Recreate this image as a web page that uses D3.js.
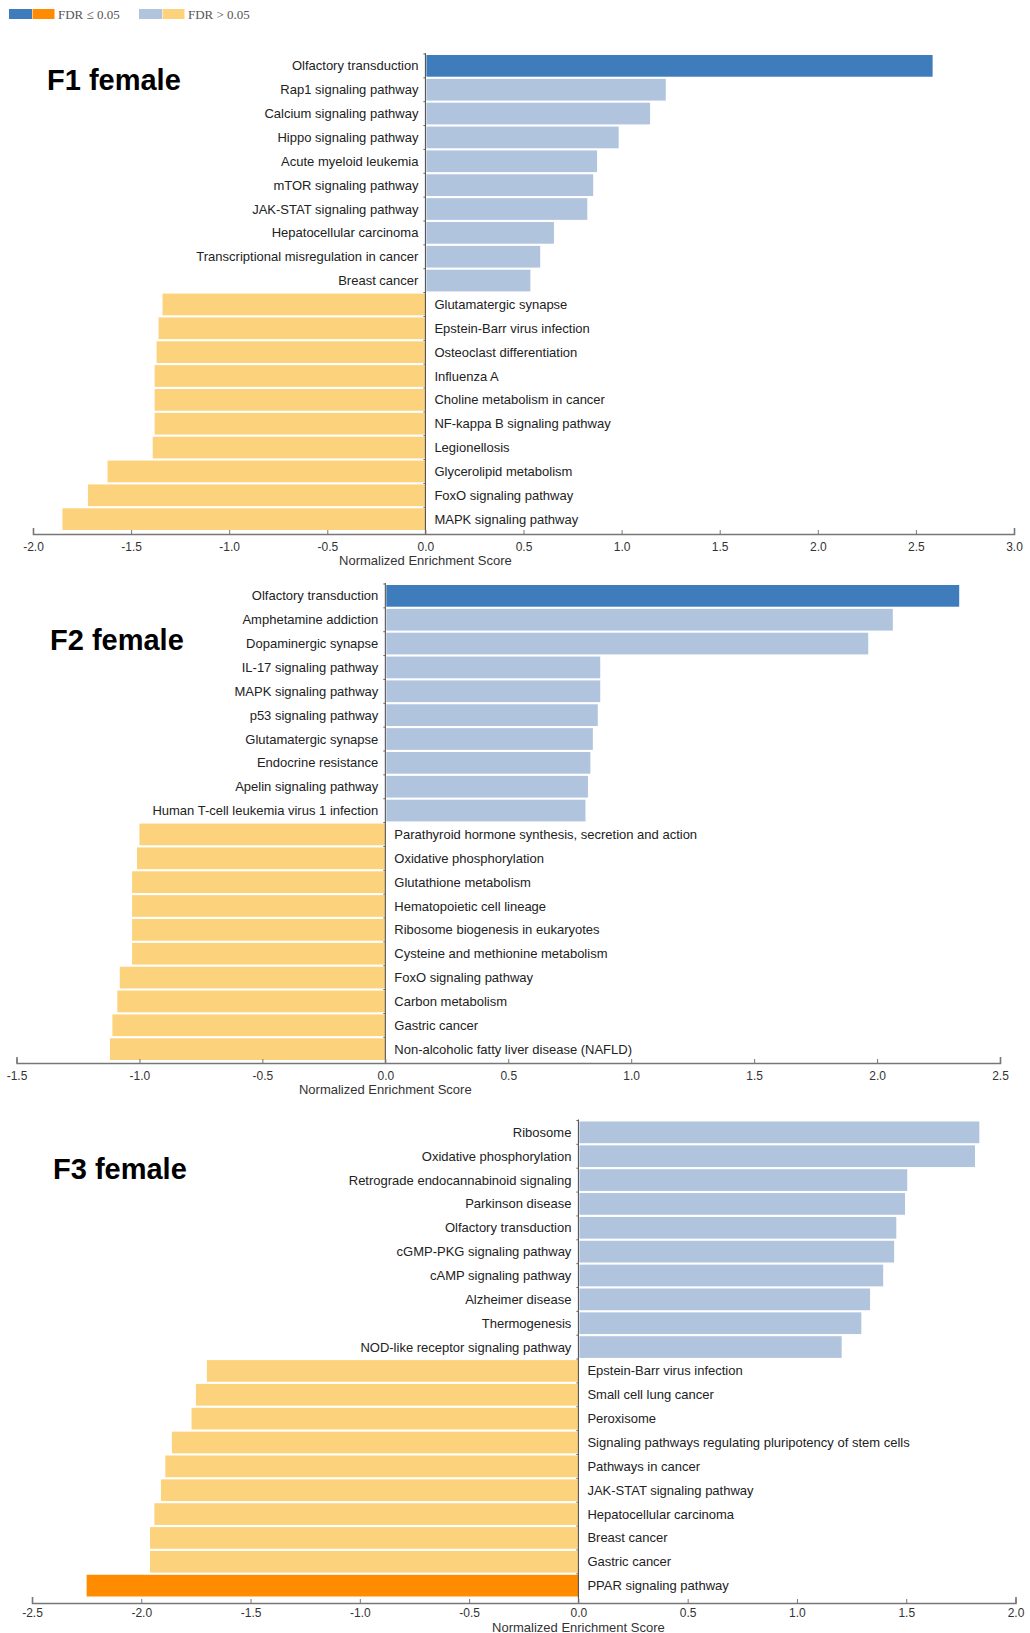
<!DOCTYPE html>
<html>
<head>
<meta charset="utf-8">
<script src="https://cdn.jsdelivr.net/npm/d3@7/dist/d3.min.js"></script>
<style>
  body { margin: 0; background: #fff; }
  text { font-family: "Liberation Sans", Arial, sans-serif; }
</style>
</head>
<body>
<div id="vis"></div>
<script>
// ---- data ----
var f1Pathways = ["Olfactory transduction", "Rap1 signaling pathway", "Calcium signaling pathway",
  "Hippo signaling pathway", "Acute myeloid leukemia", "mTOR signaling pathway",
  "JAK-STAT signaling pathway", "Hepatocellular carcinoma", "Transcriptional misregulation in cancer",
  "Breast cancer", "Glutamatergic synapse", "Epstein-Barr virus infection", "Osteoclast differentiation",
  "Influenza A", "Choline metabolism in cancer", "NF-kappa B signaling pathway", "Legionellosis",
  "Glycerolipid metabolism", "FoxO signaling pathway", "MAPK signaling pathway"];
var f1Scores = [2.58, 1.22, 1.14, 0.98, 0.87, 0.85, 0.82, 0.65, 0.58, 0.53,
  -1.34, -1.36, -1.37, -1.38, -1.38, -1.38, -1.39, -1.62, -1.72, -1.85];
var f1Sig = [true, false, false, false, false, false, false, false, false, false,
  false, false, false, false, false, false, false, false, false, false];
var f1Ticks = [-2.0, -1.5, -1.0, -0.5, 0.0, 0.5, 1.0, 1.5, 2.0, 2.5, 3.0];

var f2Pathways = ["Olfactory transduction", "Amphetamine addiction", "Dopaminergic synapse",
  "IL-17 signaling pathway", "MAPK signaling pathway", "p53 signaling pathway", "Glutamatergic synapse",
  "Endocrine resistance", "Apelin signaling pathway", "Human T-cell leukemia virus 1 infection",
  "Parathyroid hormone synthesis, secretion and action", "Oxidative phosphorylation",
  "Glutathione metabolism", "Hematopoietic cell lineage", "Ribosome biogenesis in eukaryotes",
  "Cysteine and methionine metabolism", "FoxO signaling pathway", "Carbon metabolism",
  "Gastric cancer", "Non-alcoholic fatty liver disease (NAFLD)"];
var f2Scores = [2.33, 2.06, 1.96, 0.87, 0.87, 0.86, 0.84, 0.83, 0.82, 0.81,
  -1.00, -1.01, -1.03, -1.03, -1.03, -1.03, -1.08, -1.09, -1.11, -1.12];
var f2Sig = [true, false, false, false, false, false, false, false, false, false,
  false, false, false, false, false, false, false, false, false, false];
var f2Ticks = [-1.5, -1.0, -0.5, 0.0, 0.5, 1.0, 1.5, 2.0, 2.5];

var f3Pathways = ["Ribosome", "Oxidative phosphorylation", "Retrograde endocannabinoid signaling",
  "Parkinson disease", "Olfactory transduction", "cGMP-PKG signaling pathway", "cAMP signaling pathway",
  "Alzheimer disease", "Thermogenesis", "NOD-like receptor signaling pathway",
  "Epstein-Barr virus infection", "Small cell lung cancer", "Peroxisome",
  "Signaling pathways regulating pluripotency of stem cells", "Pathways in cancer",
  "JAK-STAT signaling pathway", "Hepatocellular carcinoma", "Breast cancer", "Gastric cancer",
  "PPAR signaling pathway"];
var f3Scores = [1.83, 1.81, 1.50, 1.49, 1.45, 1.44, 1.39, 1.33, 1.29, 1.20,
  -1.70, -1.75, -1.77, -1.86, -1.89, -1.91, -1.94, -1.96, -1.96, -2.25];
var f3Sig = [false, false, false, false, false, false, false, false, false, false,
  false, false, false, false, false, false, false, false, false, true];
var f3Ticks = [-2.5, -2.0, -1.5, -1.0, -0.5, 0.0, 0.5, 1.0, 1.5, 2.0];

var legendLabels = ["FDR \u2264 0.05", "FDR > 0.05"];

// colours
var posSig = "#3e7cbc", posNs = "#b0c4de", negSig = "#ff8c00", negNs = "#fdd27d";

var svg = d3.select("#vis")
  .append("svg")
    .attr("width", 1030)
    .attr("height", 1633);

// legend
var legend = svg.append("g").attr("class", "legend");
[[posSig, negSig], [posNs, negNs]].forEach(function(pair, i) {
  var x0 = 9 + i * 130;
  legend.append("rect").attr("x", x0).attr("y", 9).attr("width", 23).attr("height", 10).attr("fill", pair[0]);
  legend.append("rect").attr("x", x0 + 23.5).attr("y", 9).attr("width", 22).attr("height", 10).attr("fill", pair[1]);
  legend.append("text")
    .attr("x", x0 + 49).attr("y", 18.5)
    .style("font-family", "'Liberation Serif', 'Times New Roman', serif")
    .style("font-size", "13px")
    .attr("fill", "#555")
    .text(legendLabels[i]);
});

function drawPanel(p) {
  var g = svg.append("g");

  var x = d3.scaleLinear().domain(p.domain).range(p.xRange);
  var y = d3.scaleBand().domain(p.names).range(p.yRange).paddingInner(0.09);

  var rows = p.names.map(function(n, i) { return {name: n, score: p.scores[i], sig: p.sig[i]}; });

  g.selectAll(".bar")
    .data(rows)
    .enter()
    .append("rect")
      .attr("class", "bar")
      .attr("x", function(d) { return x(Math.min(0, d.score)) + (d.score > 0 ? 1 : 0) })
      .attr("y", function(d) { return y(d.name) })
      .attr("width", function(d) { return Math.abs(x(d.score) - x(0)) })
      .attr("height", y.bandwidth())
      .attr("fill", function(d) {
        if (d.score > 0) return d.sig ? posSig : posNs;
        return d.sig ? negSig : negNs;
      });

  // pathway labels, on the opposite side of the zero line
  g.selectAll(".lab")
    .data(rows)
    .enter()
    .append("text")
      .attr("class", "lab")
      .attr("x", function(d) { return d.score > 0 ? x(0) - 7 : x(0) + 9 })
      .attr("y", function(d) { return y(d.name) + y.bandwidth() / 2 })
      .attr("dy", "0.35em")
      .attr("text-anchor", function(d) { return d.score > 0 ? "end" : "start" })
      .style("font-size", "13px")
      .attr("fill", "#222")
      .text(function(d) { return d.name });

  // zero line with small band ticks
  g.append("line")
    .attr("x1", x(0)).attr("x2", x(0))
    .attr("y1", p.yRange[0] - 2).attr("y2", p.axisY)
    .attr("stroke", "#444").attr("stroke-width", 1);
  g.selectAll(".ytick")
    .data(p.names)
    .enter()
    .append("line")
      .attr("x1", x(0) - 2).attr("x2", x(0))
      .attr("y1", function(d) { return y(d) - 1 })
      .attr("y2", function(d) { return y(d) - 1 })
      .attr("stroke", "#666");

  // x axis
  var axis = d3.axisBottom(x)
    .tickValues(p.ticks)
    .tickFormat(function(d) { return d.toFixed(1) })
    .tickSize(-4)
    .tickSizeOuter(-6)
    .tickPadding(p.tickPad);
  var ax = g.append("g")
    .attr("transform", "translate(0," + p.axisY + ")")
    .call(axis);
  ax.select(".domain").attr("stroke", "#777").attr("stroke-width", 1.6);
  ax.selectAll(".tick line").attr("stroke", "#777");
  ax.selectAll(".tick text")
    .style("font-size", "12px")
    .style("font-family", "'Liberation Sans', Arial, sans-serif")
    .attr("fill", "#333");

  g.append("text")
    .attr("x", x(0))
    .attr("y", p.axisY + p.titleGap)
    .attr("text-anchor", "middle")
    .style("font-size", "13px")
    .attr("fill", "#333")
    .text("Normalized Enrichment Score");

  g.append("text")
    .attr("x", p.titleX)
    .attr("y", p.titleY)
    .style("font-size", "29px")
    .style("font-weight", "bold")
    .attr("fill", "#000")
    .text(p.title);
}

drawPanel({names: f1Pathways, scores: f1Scores, sig: f1Sig, ticks: f1Ticks,
  domain: [-2.0, 3.0], xRange: [33, 1014], yRange: [55, 530], axisY: 534, titleGap: 31, tickPad: 8,
  title: "F1 female", titleX: 47, titleY: 90});
drawPanel({names: f2Pathways, scores: f2Scores, sig: f2Sig, ticks: f2Ticks,
  domain: [-1.5, 2.5], xRange: [16.5, 1000], yRange: [585, 1060], axisY: 1063, titleGap: 31, tickPad: 8,
  title: "F2 female", titleX: 50, titleY: 650});
drawPanel({names: f3Pathways, scores: f3Scores, sig: f3Sig, ticks: f3Ticks,
  domain: [-2.5, 2.0], xRange: [32, 1015.5], yRange: [1121.5, 1596.5], axisY: 1603, titleGap: 28.5, tickPad: 5,
  title: "F3 female", titleX: 53, titleY: 1179});
</script>
</body>
</html>
